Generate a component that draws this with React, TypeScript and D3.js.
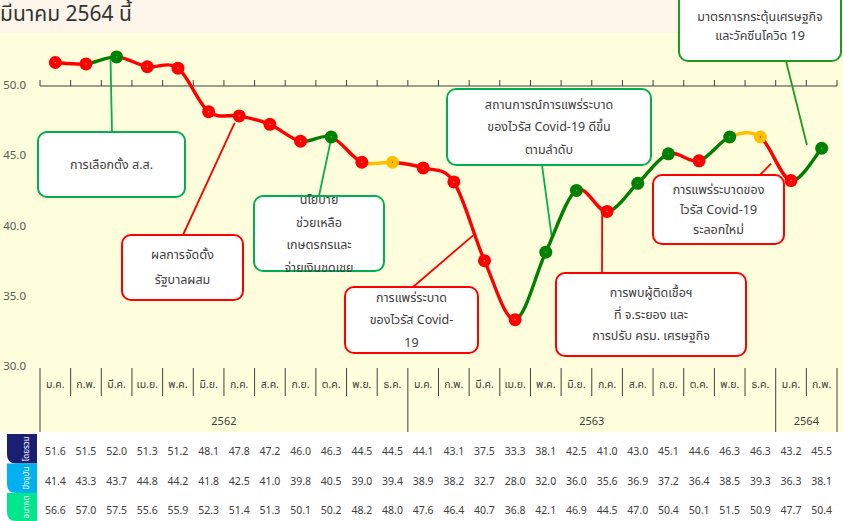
import React from "react";
import * as d3 from "d3";

const WIDTH = 843;
const HEIGHT = 521;
const PLOT = { left: 40, right: 837, top: 85, bottom: 366 };
const FONT = "Tahoma, 'Noto Sans Thai', 'DejaVu Sans', sans-serif";

const RED = "#ff0000";
const GREEN = "#008000";
const YELLOW = "#ffc000";
const BOX_GREEN = "#00b050";
const TEXT = "#404040";

const MONTHS = [
  "ม.ค.", "ก.พ.", "มี.ค.", "เม.ย.", "พ.ค.", "มิ.ย.", "ก.ค.", "ส.ค.", "ก.ย.", "ต.ค.", "พ.ย.", "ธ.ค.",
  "ม.ค.", "ก.พ.", "มี.ค.", "เม.ย.", "พ.ค.", "มิ.ย.", "ก.ค.", "ส.ค.", "ก.ย.", "ต.ค.", "พ.ย.", "ธ.ค.",
  "ม.ค.", "ก.พ.",
];
const YEARS = ["2562", "2563", "2564"];
const YEAR_MONTHS = [12, 12, 2];

// ดัชนีความเชื่อมั่น
const OVERALL = [51.6, 51.5, 52.0, 51.3, 51.2, 48.1, 47.8, 47.2, 46.0, 46.3, 44.5, 44.5, 44.1, 43.1, 37.5, 33.3, 38.1, 42.5, 41.0, 43.0, 45.1, 44.6, 46.3, 46.3, 43.2, 45.5];
const CURRENT = [41.4, 43.3, 43.7, 44.8, 44.2, 41.8, 42.5, 41.0, 39.8, 40.5, 39.0, 39.4, 38.9, 38.2, 32.7, 28.0, 32.0, 36.0, 35.6, 36.9, 37.2, 36.4, 38.5, 39.3, 36.3, 38.1];
const FUTURE = [56.6, 57.0, 57.5, 55.6, 55.9, 52.3, 51.4, 51.3, 50.1, 50.2, 48.2, 48.0, 47.6, 46.4, 40.7, 36.8, 42.1, 46.9, 44.5, 47.0, 50.4, 50.1, 51.5, 50.9, 47.7, 50.4];
const Y_TICKS = [30, 35, 40, 45, 50];

const ROWS = [
  { name: "โดยรวม", color: "#1b1f73", values: OVERALL },
  { name: "ปัจจุบัน", color: "#00b0f0", values: CURRENT },
  { name: "อนาคต", color: "#00e68c", values: FUTURE },
];

// callouts: box in pixels, leader tip in data coords (category index, value)
const NOTES = [
  { lines: ["การเลือกตั้ง ส.ส."], color: BOX_GREEN, box: [38, 132, 147, 65], from: [112, 132], tip: [1.8, 51.9], lh: 22 },
  { lines: ["ผลการจัดตั้ง", "รัฐบาลผสม"], color: RED, box: [122, 235, 121, 65], from: [183, 235], tip: [5.85, 47.3], lh: 25 },
  { lines: ["นโยบาย", "ช่วยเหลือ", "เกษตรกรและ", "จ่ายเงินชดเชย"], color: BOX_GREEN, box: [254, 196, 130, 75], from: [319, 196], tip: [9.0, 46.2], lh: 22.5 },
  { lines: ["การแพร่ระบาด", "ของไวรัส Covid-", "19"], color: RED, box: [345, 287, 133, 66], from: [413, 287], tip: [13.63, 39.3], lh: 22.5 },
  { lines: ["สถานการณ์การแพร่ระบาด", "ของไวรัส Covid-19 ดีขึ้น", "ตามลำดับ"], color: BOX_GREEN, box: [447, 89, 204, 76], from: [542, 165], tip: [16.2, 39.1], lh: 22.5 },
  { lines: ["การพบผู้ติดเชื้อฯ", "ที่ จ.ระยอง และ", "การปรับ ครม. เศรษฐกิจ"], color: RED, box: [556, 273, 190, 83], from: [602, 273], tip: [17.84, 40.9], lh: 21.5 },
  { lines: ["การแพร่ระบาดของ", "ไวรัส Covid-19", "ระลอกใหม่"], color: RED, box: [653, 175, 131, 69], from: [759, 176], tip: [23.35, 44.4], lh: 20 },
  { lines: ["มาตรการกระตุ้นเศรษฐกิจ", "และวัคซีนโควิด 19"], color: "#1f9a1f", box: [679, -8, 162, 69], from: [786, 61], tip: [24.52, 45.73], lh: 19 },
];

const trendColor = (i: number) => {
  if (i === 0) return RED; // previous month not shown, falling
  const d = OVERALL[i] - OVERALL[i - 1];
  return d > 0 ? GREEN : d < 0 ? RED : YELLOW;
};
const dotColor = (c: string) => (c === RED ? "#ffd000" : c === GREEN ? "#5fb85f" : RED);

export default function App() {
  const x = d3.scaleBand<number>().domain(d3.range(MONTHS.length)).range([PLOT.left, PLOT.right]);
  const step = x.step();
  const cx = (i: number) => PLOT.left + (i + 0.5) * step;
  const y = d3.scaleLinear().domain([30, 50]).range([PLOT.bottom, PLOT.top]);

  const pts = OVERALL.map((v, i) => [cx(i), y(v)] as [number, number]);

  // catmull-rom segments, one path per month-to-month change
  const segments = pts.slice(1).map((p2, k) => {
    const i = k + 1;
    const p1 = pts[i - 1];
    const p0 = pts[Math.max(0, i - 2)];
    const p3 = pts[Math.min(pts.length - 1, i + 1)];
    const path = d3.path();
    path.moveTo(p1[0], p1[1]);
    path.bezierCurveTo(
      p1[0] + (p2[0] - p0[0]) / 6, p1[1] + (p2[1] - p0[1]) / 6,
      p2[0] - (p3[0] - p1[0]) / 6, p2[1] - (p3[1] - p1[1]) / 6,
      p2[0], p2[1]
    );
    return { d: path.toString(), color: trendColor(i) };
  });

  const yearStarts = YEAR_MONTHS.map((_, i) => d3.sum(YEAR_MONTHS.slice(0, i)));
  const boundaries = d3.range(MONTHS.length + 1).map((i) => PLOT.left + i * step);
  const tableTop = 432;
  const rowH = 29.5;

  return (
    <>
      <style>{`body{margin:0}`}</style>
      <svg width={WIDTH} height={HEIGHT} style={{ display: "block", fontFamily: FONT }}>
        <rect width={WIDTH} height={HEIGHT} fill="#ffffff" />
        <rect width={WIDTH} height={tableTop} fill="#fffedc" />
        <rect width={WIDTH} height={33} fill="#fdf5ea" />
        <text x={0} y={21} fontSize={21} fill="#333">มีนาคม 2564 นี้</text>

        {/* y tick labels */}
        {Y_TICKS.map((t) => (
          <text key={t} x={26} y={y(t)} dy="0.35em" textAnchor="end" fontSize={11.5} fill="#595959">
            {d3.format(".1f")(t)}
          </text>
        ))}

        {/* horizontal axis at 50 */}
        <line x1={PLOT.left} x2={PLOT.right} y1={y(50) + 1} y2={y(50) + 1} stroke="#404040" strokeWidth={1.2} />
        {boundaries.map((bx, i) => (
          <line key={i} x1={bx} x2={bx} y1={y(50) - 5} y2={y(50) + 1} stroke="#404040" strokeWidth={1} />
        ))}

        {/* category axis */}
        {boundaries.map((bx, i) => {
          const isYear = i === MONTHS.length || yearStarts.includes(i);
          return (
            <line key={i} x1={bx} x2={bx} y1={368} y2={isYear ? tableTop : 396} stroke="#404040" strokeWidth={1} />
          );
        })}
        {MONTHS.map((m, i) => (
          <text key={i} x={cx(i)} y={384} dy="0.35em" textAnchor="middle" fontSize={10.5} fill={TEXT}>{m}</text>
        ))}
        {YEARS.map((yr, i) => (
          <text key={yr} x={PLOT.left + (yearStarts[i] + YEAR_MONTHS[i] / 2) * step} y={421} dy="0.35em"
            textAnchor="middle" fontSize={11} fill={TEXT}>{yr}</text>
        ))}

        {/* leader lines */}
        {NOTES.map((n, i) => (
          <line key={i} x1={n.from[0]} y1={n.from[1]} x2={cx(n.tip[0])} y2={y(n.tip[1])} stroke={n.color} strokeWidth={1.8} />
        ))}

        {/* line and points */}
        {segments.map((s, i) => (
          <path key={i} d={s.d} fill="none" stroke={s.color} strokeWidth={3.4} strokeLinecap="round" />
        ))}
        {pts.map((p, i) => (
          <g key={i}>
            <circle cx={p[0]} cy={p[1]} r={6.5} fill={trendColor(i)} />
            <circle cx={p[0]} cy={p[1]} r={0.7} fill={dotColor(trendColor(i))} />
          </g>
        ))}

        {/* callout boxes */}
        {NOTES.map((n, i) => {
          const [bx, by, bw, bh] = n.box;
          const mid = by + bh / 2;
          return (
            <g key={i}>
              <rect x={bx} y={by} width={bw} height={bh} rx={9} fill="#fff" stroke={n.color} strokeWidth={2} />
              {n.lines.map((l, j) => (
                <text key={j} x={bx + bw / 2} y={mid + (j - (n.lines.length - 1) / 2) * n.lh} dy="0.35em"
                  textAnchor="middle" fontSize={12.5} fill={TEXT}>{l}</text>
              ))}
            </g>
          );
        })}

        {/* data table */}
        {ROWS.map((r, ri) => {
          const top = tableTop + 2 + ri * rowH;
          const x0 = 7, x1 = 37, y1 = Math.min(top + rowH, HEIGHT), rad = 9;
          return (
            <g key={r.name}>
              <path d={`M${x0},${top}H${x1}V${y1}H${x0 + rad}Q${x0},${y1} ${x0},${y1 - rad}Z`} fill={r.color} />
              <text transform={`translate(${(x0 + x1) / 2 + 4},${(top + y1) / 2}) rotate(-90)`} textAnchor="middle"
                dy="0.35em" fontSize={8} fill="#fff">{r.name}</text>
              {r.values.map((v, i) => (
                <text key={i} x={cx(i)} y={top + rowH / 2 + 3} dy="0.35em" textAnchor="middle" fontSize={10.5} fill={TEXT}>
                  {d3.format(".1f")(v)}
                </text>
              ))}
            </g>
          );
        })}
      </svg>
    </>
  );
}
